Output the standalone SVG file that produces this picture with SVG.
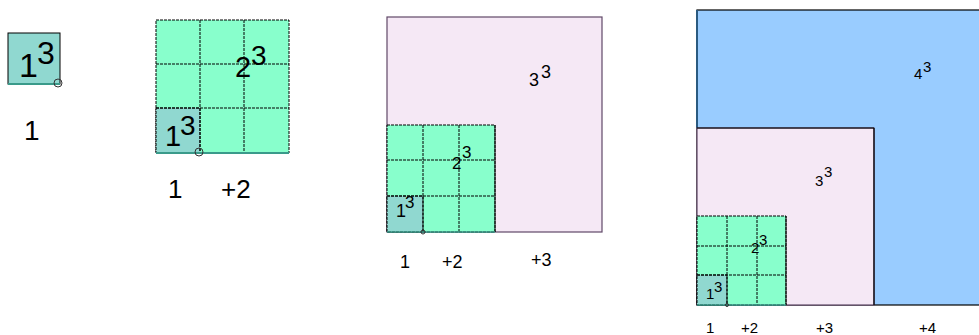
<svg xmlns="http://www.w3.org/2000/svg" width="979" height="335" viewBox="0 0 979 335">
<style>
text{font-family:"Liberation Sans",Arial,sans-serif;fill:#000}
.teal{fill:#90d8d0;stroke:#000;stroke-width:1}
.green{fill:#88ffcc;stroke:#000;stroke-width:1;stroke-dasharray:3,1}
.grid{stroke:#000;stroke-width:1;stroke-dasharray:3,1;fill:none}
.pink{fill:#f5e8f5;stroke:#604868;stroke-width:1.2}
.blue{fill:#99ccff;stroke:#000;stroke-width:1.2}
.base{stroke:#3a9a8a;stroke-width:2}
.dot{fill:none;stroke:#333;stroke-width:1}
</style>
<rect width="979" height="335" fill="#fff"/>

<g id="fig1">
<rect class="teal" x="8" y="33" width="52" height="51"/>
<line class="base" x1="8" y1="84" x2="60" y2="84"/>
<circle class="dot" cx="58" cy="83" r="4"/>
<text x="19" y="77" font-size="34">1</text>
<text x="37" y="64" font-size="32">3</text>
<text x="24" y="140" font-size="28">1</text>
</g>

<g id="fig2">
<rect class="green" x="156" y="20" width="133" height="133"/>
<rect class="teal" x="156" y="108" width="44" height="45" style="stroke-dasharray:3,1"/>
<path class="grid" d="M200 20V153M244 20V153M156 64H289M156 108H289"/>
<line class="base" x1="156" y1="153" x2="289" y2="153"/>
<circle class="dot" cx="199" cy="152" r="4"/>
<text x="165" y="146" font-size="29">1</text>
<text x="180" y="135" font-size="28">3</text>
<text x="235" y="77" font-size="29">2</text>
<text x="251" y="65" font-size="28">3</text>
<text x="168" y="198" font-size="26">1</text>
<text x="221" y="198" font-size="26">+2</text>
</g>

<g id="fig3">
<rect class="pink" x="387" y="17" width="215" height="215"/>
<rect class="green" x="387" y="125" width="108" height="107"/>
<rect class="teal" x="387" y="196" width="36" height="36" style="stroke-dasharray:3,1"/>
<path class="grid" d="M423 125V232M459 125V232M387 160H495M387 196H495"/>
<line x1="495" y1="125" x2="495" y2="232" stroke="#000" stroke-width="1"/>
<line class="base" x1="387" y1="232" x2="495" y2="232" style="stroke-width:1.5"/>
<circle class="dot" cx="423" cy="232" r="2"/>
<text x="396" y="217" font-size="18">1</text>
<text x="405" y="208" font-size="17">3</text>
<text x="452" y="169" font-size="17">2</text>
<text x="462" y="158" font-size="17">3</text>
<text x="529" y="86" font-size="18">3</text>
<text x="541" y="78" font-size="18">3</text>
<text x="400" y="268" font-size="18">1</text>
<text x="442" y="268" font-size="18">+2</text>
<text x="531" y="266" font-size="18">+3</text>
</g>

<g id="fig4">
<rect class="blue" x="697" y="10" width="296" height="295"/>
<line x1="697" y1="10" x2="697" y2="128" stroke="#2a5a80" stroke-width="2"/>
<rect class="pink" x="697" y="128" width="177" height="177"/>
<line x1="874" y1="128" x2="874" y2="305" stroke="#000" stroke-width="1.2"/>
<line x1="697" y1="128" x2="874" y2="128" stroke="#000" stroke-width="1.2"/>
<rect class="green" x="697" y="216" width="89" height="89"/>
<rect class="teal" x="697" y="275" width="30" height="30" style="stroke-dasharray:3,1"/>
<path class="grid" d="M727 216V305M757 216V305M697 246H786M697 275H786"/>
<line x1="786" y1="216" x2="786" y2="305" stroke="#000" stroke-width="1"/>
<line x1="697" y1="305" x2="786" y2="305" stroke="#3a9a8a" stroke-width="1.5"/>
<circle class="dot" cx="727" cy="305" r="1.5"/>
<text x="706" y="299" font-size="15">1</text>
<text x="714" y="292" font-size="15">3</text>
<text x="751" y="253" font-size="15">2</text>
<text x="759" y="245" font-size="15">3</text>
<text x="815" y="186" font-size="15">3</text>
<text x="824" y="177" font-size="15">3</text>
<text x="914" y="79" font-size="15">4</text>
<text x="923" y="72" font-size="15">3</text>
<text x="706" y="333" font-size="15">1</text>
<text x="741" y="333" font-size="15">+2</text>
<text x="816" y="333" font-size="15">+3</text>
<text x="919" y="333" font-size="15">+4</text>
</g>
</svg>
